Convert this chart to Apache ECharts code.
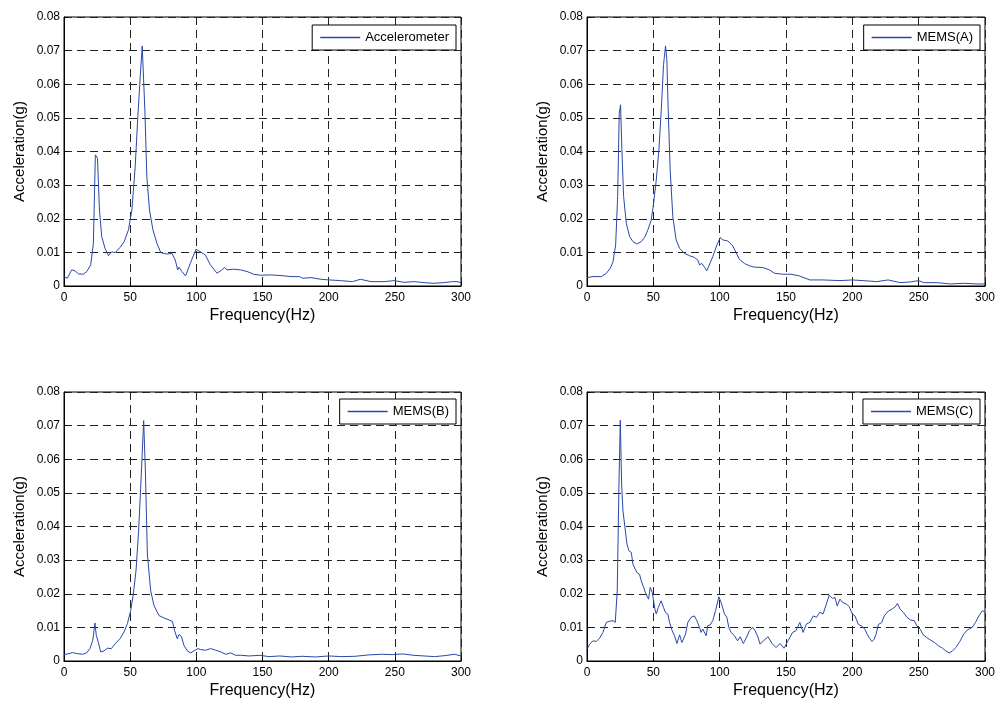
<!DOCTYPE html>
<html>
<head>
<meta charset="utf-8">
<script src="https://cdn.jsdelivr.net/npm/echarts@6/dist/echarts.min.js"></script>
<style>
html,body{margin:0;padding:0;background:#fff;}
#c{width:998px;height:702px;}
</style>
</head>
<body>
<div id="c"></div>
<script>
// ---- data: [frequency (Hz), acceleration (g)] ----
var seriesNames = ['Accelerometer', 'MEMS(A)', 'MEMS(B)', 'MEMS(C)'];

var accelerometerData = [
  [0,.0028],[2.5,.0023],[5.8,.0048],[8.3,.0045],[10.9,.0036],[14.6,.0035],[17.2,.0043],[20.2,.0063],
  [22.2,.0127],[23.7,.039],[25.3,.038],[26.8,.0226],[28.5,.0147],[31,.0112],[33.6,.009],[36.1,.0102],
  [38.6,.0099],[42.4,.0115],[45.5,.0132],[48.7,.0167],[51.3,.0226],[53.8,.0355],[55.8,.0504],[57.6,.0623],
  [59.1,.0714],[60.1,.0714],[61.1,.0524],[62.6,.0325],[64.6,.0226],[67.2,.0167],[70.2,.0127],[73.2,.0099],
  [77.8,.0095],[81.6,.0097],[84.1,.0077],[85.9,.0048],[86.9,.0056],[89.1,.0043],[91.9,.003],[95.4,.0067],
  [99.7,.0109],[103,.0102],[106.8,.0092],[110.6,.0063],[115.6,.0038],[118.7,.0046],[121.2,.0055],[123.2,.0048],
  [128.3,.005],[133.3,.0048],[138.4,.0043],[143.4,.0035],[148.5,.0032],[156,.0033],[164,.0031],[171.6,.0028],
  [178,.0028],[180.4,.0023],[186.7,.0025],[194,.002],[200.5,.0018],[209,.0016],[218,.0013],[224,.002],
  [232,.0013],[242,.0013],[249.5,.0016],[257,.0011],[264.6,.0013],[272,.001],[279.7,.0008],[287,.001],
  [293.5,.0013],[297,.0013],[300,.001]
];

var memsAData = [
  [0,.0025],[4.5,.0028],[10.8,.0028],[14.6,.0038],[17.6,.0053],[19.6,.0072],[21.6,.0122],[23.1,.0266],
  [24.3,.0514],[25.3,.0539],[26.3,.0405],[27.6,.0266],[29.6,.0187],[32.1,.0147],[34.6,.0132],[37.6,.0125],
  [40.9,.0132],[43.4,.0144],[45.9,.0167],[48.4,.0196],[50.2,.0246],[52.2,.0315],[54.2,.0405],[56,.0524],
  [57.7,.0658],[59.2,.0714],[60.2,.0673],[61.2,.0524],[62.7,.0345],[64.7,.0206],[67.2,.0137],[69.8,.0112],
  [73.5,.0097],[77.3,.009],[81,.0085],[83.6,.0077],[84.8,.0063],[86.6,.0067],[87.6,.0069],[88.6,.0056],
  [90.3,.0045],[91.8,.0048],[94.8,.0087],[97.9,.0122],[100.4,.0144],[102.4,.0137],[106.1,.0134],[109.9,.0119],
  [112.4,.0099],[114.9,.0079],[118.7,.0067],[122.4,.006],[126.2,.0056],[132.5,.0055],[137.5,.0048],[141.3,.0038],
  [147.5,.0035],[153.8,.0035],[160,.003],[168,.0018],[178,.0018],[190.7,.0016],[200,.0018],[208,.0016],
  [218.4,.0013],[227,.0018],[236,.001],[243.7,.0012],[250,.0016],[253.8,.001],[264,.001],[274,.0006],
  [284,.0008],[294,.0006],[300,.0006]
];

var memsBData = [
  [0,.0019],[3.8,.0022],[6.3,.0025],[10,.0022],[13.9,.002],[17.1,.0024],[19.6,.0037],[21.7,.0061],
  [23.4,.0113],[24.4,.0076],[25.9,.0056],[27.7,.0027],[30.2,.003],[32.7,.0038],[35.8,.0037],[39,.0053],
  [42.3,.0066],[45.3,.0086],[47.9,.0111],[50.4,.015],[52.4,.0199],[54.4,.0268],[56.4,.0387],[58.4,.0555],
  [60.2,.0715],[61.5,.0565],[63,.0318],[65.5,.0209],[68,.0165],[71.8,.0135],[75.6,.0128],[79.4,.0122],
  [81.9,.0118],[83.6,.009],[85.6,.0066],[86.9,.0079],[88.7,.0073],[90.7,.0046],[93.2,.003],[95.7,.0024],
  [98.2,.003],[101.3,.0037],[103.3,.0034],[107,.0032],[110.8,.0037],[114.6,.0032],[118.4,.0027],[122.2,.002],
  [126,.0024],[129.7,.0017],[133.5,.0017],[140,.0015],[148,.0017],[155,.0013],[163,.0015],[172,.0012],
  [180,.0014],[190,.0012],[200,.0015],[210,.0013],[220,.0014],[230,.0018],[240,.002],[248,.0019],
  [256,.0021],[264,.0017],[272,.0015],[280,.0013],[288,.0016],[295,.002],[300,.0015]
];

var memsCData = [
  [0,.0035],[2,.005],[4.5,.006],[7,.0058],[9.5,.0068],[12,.0085],[14.6,.0115],[17,.0118],
  [19.6,.012],[21.3,.0115],[22.8,.0209],[24.1,.0526],[25.1,.0716],[26.1,.0526],[27.1,.0447],[28.6,.0398],
  [30.1,.0348],[31.6,.0328],[33.4,.0323],[34.6,.0288],[36.4,.0273],[37.6,.0263],[38.6,.0268],[39.6,.0258],
  [40.9,.0238],[42.7,.0219],[44.2,.0201],[45.4,.0199],[46.4,.0184],[47.7,.0219],[49.2,.0204],[50.2,.0179],
  [51.2,.0154],[52.2,.014],[53.7,.0159],[55.9,.0179],[57.7,.0159],[59.2,.0144],[61,.0139],[62.2,.0115],
  [64.2,.009],[66,.0075],[67.8,.0052],[69.8,.0078],[71.5,.0055],[73,.0068],[74.3,.008],[76,.0115],
  [78.5,.013],[81,.0134],[82.8,.012],[84.8,.01],[86,.0085],[87.3,.0095],[88.6,.009],[89.8,.0075],
  [91,.0105],[92.8,.0107],[94.8,.012],[96.9,.015],[99.4,.0191],[101.1,.0174],[103.6,.014],[105.4,.013],
  [106.9,.01],[108.6,.0085],[111.2,.0075],[113.5,.006],[115.5,.0072],[117.8,.0052],[120,.0068],[122.4,.009],
  [125,.01],[126.7,.009],[128.5,.0075],[130.5,.005],[133.5,.0062],[136.5,.0072],[139.5,.0052],[142.5,.004],
  [145.5,.0052],[148.5,.0038],[151.5,.006],[155,.0085],[157.5,.009],[160.4,.0115],[162.9,.0085],[165.4,.011],
  [168,.0115],[170.5,.0134],[173,.013],[175.5,.0145],[178,.014],[180,.0164],[182.6,.0196],[185.1,.0186],
  [186.9,.0189],[188.6,.0164],[190.7,.0184],[192.7,.0174],[195.7,.0169],[197.7,.0161],[200,.014],[202,.0134],
  [204.5,.0109],[207,.0104],[209.6,.0094],[211.4,.0078],[212.9,.0068],[214.8,.0058],[216.5,.0065],[217.9,.008],
  [219.7,.0109],[222.2,.0114],[224,.0134],[227.3,.0149],[229.8,.0154],[232.3,.0161],[234,.0171],[236.1,.0154],
  [238.6,.0144],[241.2,.013],[243.7,.0122],[246.7,.012],[248.7,.0104],[251.3,.0094],[253.3,.0078],[256,.007],
  [259,.0062],[262,.0055],[265,.0045],[268,.0038],[270.5,.003],[273,.0024],[275.5,.003],[278,.004],
  [281,.0058],[284,.008],[286.6,.0092],[290.4,.01],[292.9,.0115],[295.4,.0134],[298,.0149],[300,.0147]
];

var allData = [accelerometerData, memsAData, memsBData, memsCData];

// axis ranges / ticks
var xMin = 0, xMax = 300, xStep = 50;
var yMin = 0, yMax = 0.08, yStep = 0.01;
var xTitle = 'Frequency(Hz)';
var yTitle = 'Acceleration(g)';

// ---- layout ----
var grids = [
  {left: 64, top: 17, width: 397, height: 269},
  {left: 587, top: 17, width: 398, height: 269},
  {left: 64, top: 392, width: 397, height: 269},
  {left: 587, top: 392, width: 398, height: 269}
];
var legendPos = [
  {right: 542, top: 25},
  {right: 18, top: 25},
  {right: 542, top: 399},
  {right: 18, top: 399}
];

var FONT = '"Liberation Sans", Arial, Helvetica, sans-serif';
var LINE_COLOR = '#2a48a8';
var gridDash = [8, 5];

var option = {
  backgroundColor: '#fff',
  animation: false,
  grid: grids.map(function (g) {
    return Object.assign({show: true, borderColor: '#000', borderWidth: 1, backgroundColor: 'transparent'}, g);
  }),
  legend: legendPos.map(function (p, i) {
    return {
      data: [seriesNames[i]],
      right: p.right, top: p.top,
      orient: 'horizontal',
      icon: 'rect',
      itemWidth: 40, itemHeight: 1.3,
      itemStyle: {color: LINE_COLOR, borderWidth: 0},
      padding: [5, 7, 5, 8],
      backgroundColor: '#fff',
      borderColor: '#000', borderWidth: 1,
      selectedMode: false,
      textStyle: {fontFamily: FONT, fontSize: 13, color: '#000', lineHeight: 15}
    };
  }),
  xAxis: grids.map(function (g, i) {
    return {
      type: 'value', gridIndex: i, min: xMin, max: xMax, interval: xStep,
      name: xTitle, nameLocation: 'middle', nameGap: 22,
      nameTextStyle: {fontFamily: FONT, fontSize: 16, color: '#000'},
      axisLine: {show: true, onZero: false, lineStyle: {color: '#000', width: 1}},
      axisTick: {show: true, inside: true, length: 4, lineStyle: {color: '#000'}},
      axisLabel: {fontFamily: FONT, fontSize: 12, color: '#000', margin: 6},
      splitLine: {show: true, lineStyle: {color: '#222', width: 1, type: gridDash}}
    };
  }),
  yAxis: grids.map(function (g, i) {
    return {
      type: 'value', gridIndex: i, min: yMin, max: yMax, interval: yStep,
      name: yTitle, nameLocation: 'middle', nameGap: 37,
      nameTextStyle: {fontFamily: FONT, fontSize: 15, color: '#000'},
      axisLine: {show: true, onZero: false, lineStyle: {color: '#000', width: 1}},
      axisTick: {show: true, inside: true, length: 4, lineStyle: {color: '#000'}},
      axisLabel: {
        fontFamily: FONT, fontSize: 12, color: '#000', margin: 4,
        formatter: function (v) { return Math.abs(v) < 1e-9 ? '0' : v.toFixed(2); }
      },
      splitLine: {show: true, lineStyle: {color: '#222', width: 1, type: gridDash}}
    };
  }),
  series: allData.map(function (d, i) {
    return {
      name: seriesNames[i], type: 'line', xAxisIndex: i, yAxisIndex: i,
      data: d, showSymbol: false, symbol: 'none', smooth: false,
      lineStyle: {color: LINE_COLOR, width: 1},
      itemStyle: {color: LINE_COLOR},
      emphasis: {disabled: true}
    };
  })
};

var chart = echarts.init(document.getElementById('c'), null, {renderer: 'canvas'});
chart.setOption(option);
</script>
</body>
</html>
